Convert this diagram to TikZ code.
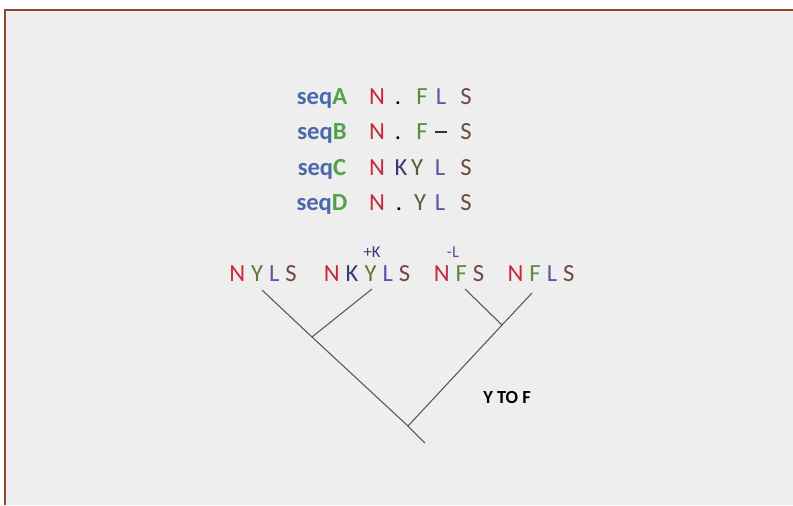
\documentclass[tikz,border=0pt]{standalone}
\usepackage{fontspec}
\setmainfont{Carlito}
\usetikzlibrary{positioning}

\definecolor{frame}{HTML}{8E4B2C}
\definecolor{paper}{HTML}{EEEEEE}
\definecolor{seqblue}{HTML}{4A69AD}
\definecolor{seqgreen}{HTML}{52A24A}
\definecolor{resN}{HTML}{C9283C}
\definecolor{resF}{HTML}{5E8A3C}
\definecolor{resL}{HTML}{6B4F9C}
\definecolor{resS}{HTML}{6E4A3E}
\definecolor{resK}{HTML}{383A7C}
\definecolor{resY}{HTML}{565C3A}
\definecolor{resYt}{HTML}{5C7A38}
\definecolor{branch}{HTML}{555555}

\tikzset{
  res/.style={inner sep=0pt, anchor=base, font=\fontsize{14}{17}\selectfont},
  seqname/.style={inner sep=0pt, anchor=base, font=\fontsize{14}{17}\selectfont\bfseries},
  leaf/.style={inner sep=0pt, anchor=base, font=\fontsize{14}{17}\selectfont},
  edit/.style={inner sep=0pt, anchor=base, font=\fontsize{9.5}{11}\selectfont},
  branchline/.style={draw=branch, line width=0.6pt}
}
\newcommand{\gp}{\kern1.2mm}
\newcommand{\gapdash}{\rule[0.26em]{0.25cm}{0.9pt}}

\begin{document}
\begin{tikzpicture}[x=0.02cm, y=-0.02cm]

\useasboundingbox (0,0) rectangle (793,505);
\fill[white] (0,0) rectangle (793,505);
\fill[paper] (5,10) rectangle (793,505);

% Cadre
\draw[frame, line width=1.2pt] (5,505) -- (5,10) -- (793,10);

% Alignement
\node[seqname] (seqA) at (322,104) {\textcolor{seqblue}{seq}\textcolor{seqgreen}{A}};
\node[seqname] (seqB) at (322,139) {\textcolor{seqblue}{seq}\textcolor{seqgreen}{B}};
\node[seqname] (seqC) at (322,175) {\textcolor{seqblue}{seq}\textcolor{seqgreen}{C}};
\node[seqname] (seqD) at (322,210) {\textcolor{seqblue}{seq}\textcolor{seqgreen}{D}};

\foreach \x/\r/\c [count=\i] in {377/N/resN, 398/./black, 422/F/resF, 441/L/resL, 466/S/resS}
  \node[res, text=\c] (a\i) at (\x,104) {\r};
\foreach \x/\r/\c [count=\i] in {377/N/resN, 398/./black, 422/F/resF, 441/\gapdash/black!80, 466/S/resS}
  \node[res, text=\c] (b\i) at (\x,139) {\r};
\foreach \x/\r/\c [count=\i] in {377/N/resN, 401/K/resK, 417/Y/resY, 440/L/resL, 466/S/resS}
  \node[res, text=\c] (c\i) at (\x,175) {\r};
\foreach \x/\r/\c [count=\i] in {377/N/resN, 399/./black, 420/Y/resY, 440/L/resL, 466/S/resS}
  \node[res, text=\c] (d\i) at (\x,210) {\r};

% Feuilles
\node[leaf] (nyls) at (263,281)
  {\textcolor{resN}{N}\gp\textcolor{resYt}{Y}\gp\textcolor{resL}{L}\gp\textcolor{resS}{S}};
\node[leaf] (nkyls) at (367,281)
  {\textcolor{resN}{N}\gp\textcolor{resK}{K}\gp\textcolor{resYt}{Y}\gp\textcolor{resL}{L}\gp\textcolor{resS}{S}};
\node[leaf] (nfs) at (459,281)
  {\textcolor{resN}{N}\gp\textcolor{resF}{F}\gp\textcolor{resS}{S}};
\node[leaf] (nfls) at (541,281)
  {\textcolor{resN}{N}\gp\textcolor{resF}{F}\gp\textcolor{resL}{L}\gp\textcolor{resS}{S}};

\node[edit, text=resK] (addK) at (372,257) {+K};
\node[edit, text=resL] (delL) at (453,257) {-L};

\node[inner sep=0pt, anchor=base, font=\fontsize{10.5}{12}\selectfont\bfseries] (ytof) at (507,403) {Y TO F};

% Arbre
\coordinate (tipY) at (262,290);
\coordinate (tipK) at (372,289);
\coordinate (tipF) at (465,289);
\coordinate (tipFL) at (532,293);
\coordinate (joinL) at (312,337);
\coordinate (joinR) at (502,325);
\coordinate (root) at (408,426);
\coordinate (stem) at (425,443);

\draw[branchline] (tipY) -- (joinL) -- (root) -- (stem);
\draw[branchline] (tipK) -- (joinL);
\draw[branchline] (tipF) -- (joinR);
\draw[branchline] (tipFL) -- (joinR) -- (root);

\end{tikzpicture}
\end{document}
